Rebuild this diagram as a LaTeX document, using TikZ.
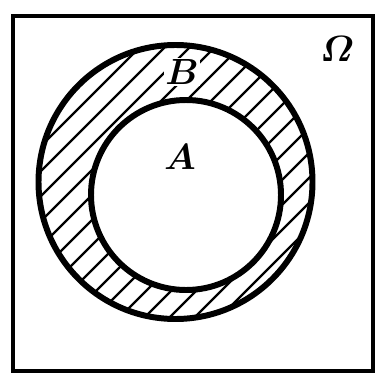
\documentclass[tikz,border=0pt]{standalone}
\usepackage{amsmath}

\begin{document}
\begin{tikzpicture}[
    x=0.02cm, y=-0.02cm,
    every node/.style={font=\fontsize{21}{25}\selectfont\bfseries\itshape},
    frame/.style={line width=2.3pt},
    ring/.style={line width=3.4pt},
    hatch/.style={line width=1.4pt},
]

% === Geometry (pixel units, y downwards) ===
\def\oX{175.5}   % outer circle B, centre x
\def\oY{182}     % outer circle B, centre y
\def\oR{137}     % outer radius
\def\iX{186}     % inner circle A, centre x
\def\iY{195}     % inner circle A, centre y
\def\iR{95}      % inner radius

\useasboundingbox (0,0) rectangle (378,375);

% === Sample space Omega ===
\draw[frame] (13,16) rectangle (373,371);

% === Hatching of B minus A ===
\begin{scope}[even odd rule]
    \clip (\oX,\oY) circle (\oR) (\iX,\iY) circle (\iR);
    \foreach \c in {62,87,...,662} {
        \draw[hatch] (\c,0) -- (0,\c);
    }
\end{scope}

% === Circles ===
\draw[ring] (\oX,\oY) circle (\oR);
\draw[ring] (\iX,\iY) circle (\iR);

% === Labels ===
\node (labA) at (180,157) {$\boldsymbol{A}$};
\node[fill=white, inner sep=1pt] (labB) at (182,72) {$\boldsymbol{B}$};
\node (labO) at (337,49) {$\boldsymbol{\varOmega}$};

\end{tikzpicture}
\end{document}
